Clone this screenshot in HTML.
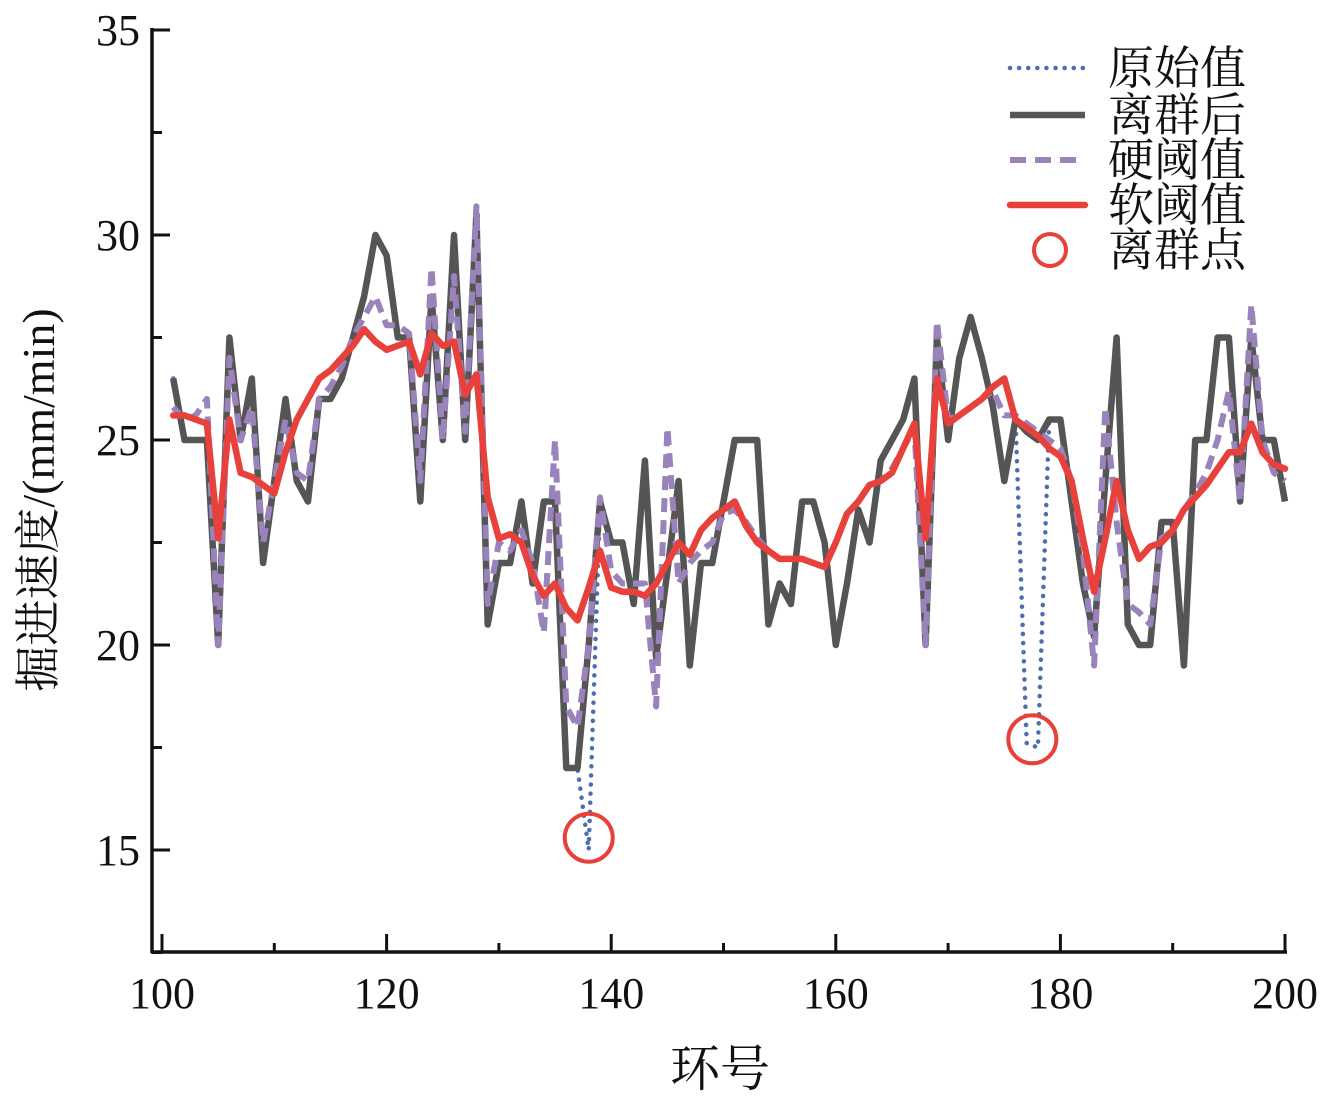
<!DOCTYPE html>
<html><head><meta charset="utf-8"><style>
body{margin:0;background:#fff;}
svg text{font-family:"Liberation Serif","Noto Serif CJK SC","Noto Sans CJK SC",serif;}
</style></head><body>
<svg id="chart" width="1337" height="1102" viewBox="0 0 1337 1102" xmlns="http://www.w3.org/2000/svg">
<g id="axes"></g>
<g id="series"></g>
<g id="legend"></g>
</svg>
<script>
const rings = []; for (let r = 101; r <= 200; r++) rings.push(r);
const afterVals = [26.5,25,25,25,20,27.5,25,26.5,22,24,26,24,23.5,26,26,26.5,27.5,28.5,30,29.5,
27.5,27.5,23.5,28.5,25,30,25,30.5,20.5,22,22,23.5,21.5,23.5,23.5,17,17,20,23.5,22.5,
22.5,21,24.5,19.7,21.8,24,19.5,22,22,23.5,25,25,25,20.5,21.5,21,23.5,23.5,22.5,20,
21.5,23.3,22.5,24.5,25,25.5,26.5,20,27.5,25,27,28,27,25.8,24,25.5,25.2,25,25.5,25.5,
23.5,21.5,20.2,24,27.5,20.5,20,20,23,23,19.5,25,25,27.5,27.5,23.5,27.5,25,25,23.5];
const rawVals = afterVals.slice(); rawVals[37] = 15; rawVals[76] = 17.6; rawVals[77] = 17.5;
const hardVals = [25.8,25.5,25.6,26,20,27,25,25.8,22.5,24,25.5,24.2,24,26,26.3,26.8,27.5,28,28.5,27.8,
27.8,27.6,24,29.2,25,29,25.2,30.7,21,22.5,22.3,22.8,22,20.3,25,18.5,18,20,23.6,21.8,
21.5,21.5,21.5,18.5,25.3,21.5,22,22.3,22.5,23.2,23.3,23,22.6,22.3,22.1,22.1,22.1,22,21.9,22.5,
23.2,23.5,23.9,24,24.3,24.8,25.3,20,27.9,25.5,25.6,25.8,26,26.2,25.6,25.6,25.4,25.2,25,24.8,
24,22.3,19.5,25.8,23,21,20.8,20.5,22.6,22.8,23.3,23.7,24.2,25,26.2,23.5,28.3,25,24.2,24];
const softVals = [25.6,25.6,25.5,25.4,22.6,25.5,24.2,24.1,23.9,23.7,24.7,25.5,26,26.5,26.7,27,27.3,27.7,27.4,27.2,
27.3,27.4,26.6,27.6,27.3,27.4,26.1,26.6,23.6,22.6,22.7,22.5,21.7,21.2,21.5,20.9,20.6,21.4,22.3,21.4,
21.3,21.3,21.2,21.5,22,22.5,22.2,22.8,23.1,23.3,23.5,22.9,22.5,22.3,22.1,22.1,22.1,22,21.9,22.5,
23.2,23.5,23.9,24,24.2,24.8,25.4,22.6,26.5,25.4,25.6,25.8,26,26.3,26.5,25.5,25.3,25.1,24.8,24.6,
24,22.6,21.3,22.6,24,22.8,22.1,22.4,22.5,22.8,23.3,23.6,23.9,24.3,24.7,24.7,25.4,24.7,24.4,24.3];
const outlierX = [138, 177.5];
const outlierY = [15.3, 17.7];
const xTicks = [100,120,140,160,180,200];
const yTicks = [15,20,25,30,35];
const legendLabels = ["原始值","离群后","硬阈值","软阈值","离群点"];

const NS = "http://www.w3.org/2000/svg";
const X = v => 162 + (v - 100) * 11.23;
const Y = v => 30 + (35 - v) * 41;
function mk(tag, attrs, parent){ const e = document.createElementNS(NS, tag); for (const k in attrs) e.setAttribute(k, attrs[k]); parent.appendChild(e); return e; }
const axes = document.getElementById('axes'), series = document.getElementById('series'), legend = document.getElementById('legend');

const yAxis = mk('line',{x1:152,y1:28,x2:152,y2:953,stroke:'#111','stroke-width':3.5},axes);


const xAxis = mk('line',{x1:151,y1:952,x2:1287,y2:952,stroke:'#111','stroke-width':3.5},axes);


for (let v = 12.5; v <= 35; v += 2.5) {
  const major = v % 5 === 0;
  const t = mk('line',{x1:152,y1:Y(v),x2:major?170:162,y2:Y(v),stroke:'#111','stroke-width':3},axes);
  
  
}
yTicks.forEach(v => {
  const t = mk('text',{x:140,y:Y(v)+15,'text-anchor':'end','font-size':44,fill:'#111'},axes); t.textContent = v;
  
  
});
for (let v = 100; v <= 200; v += 10) {
  const major = v % 20 === 0;
  const t = mk('line',{x1:X(v),y1:952,x2:X(v),y2:major?934:943,stroke:'#111','stroke-width':3},axes);
  
  
}
xTicks.forEach(v => {
  const t = mk('text',{x:X(v),y:1008,'text-anchor':'middle','font-size':44,fill:'#111'},axes); t.textContent = v;
  
  
});
const xt = mk('text',{x:720,y:1086,'text-anchor':'middle','font-size':50,fill:'#111'},axes); xt.textContent = '环号';


const yt = mk('text',{x:0,y:0,'text-anchor':'middle','font-size':46,fill:'#111',transform:'translate(54,500) rotate(-90)'},axes); yt.textContent = '掘进速度/(mm/min)';



const pts = vals => vals.map((v,i) => X(rings[i]).toFixed(1)+','+Y(v).toFixed(1)).join(' ');
const styles = [
  {vals:rawVals, stroke:'#4a6fb0', w:4.5, dash:'0.1 9', cap:'round', name:'raw-series'},
  {vals:afterVals, stroke:'#555555', w:6.5, dash:'', cap:'butt', name:'after-outlier-series'},
  {vals:hardVals, stroke:'#9a82bb', w:6, dash:'14 8', cap:'butt', name:'hard-threshold-series'},
  {vals:softVals, stroke:'#e8403a', w:6.5, dash:'', cap:'round', name:'soft-threshold-series'}
];
styles.forEach(s => {
  const p = mk('polyline',{points:pts(s.vals),fill:'none',stroke:s.stroke,'stroke-width':s.w,'stroke-linejoin':'round','stroke-linecap':s.cap},series);
  if (s.dash) p.setAttribute('stroke-dasharray', s.dash);
  
  
});
outlierX.forEach((x,i) => {
  const c = mk('circle',{cx:X(x),cy:Y(outlierY[i]),r:24,fill:'none',stroke:'#e8403a','stroke-width':4},series);
  
  
});

const ly = [68,115,160,205,250];
styles.forEach((s,i) => {
  const l = mk('line',{x1:1010,y1:ly[i],x2:1085,y2:ly[i],stroke:s.stroke,'stroke-width':s.w,'stroke-linecap':s.cap},legend);
  if (s.dash) l.setAttribute('stroke-dasharray', i===0?'0.1 9':'16 9');
  
  
});
const lc = mk('circle',{cx:1050,cy:ly[4],r:16,fill:'none',stroke:'#e8403a','stroke-width':4},legend);


legendLabels.forEach((t,i) => {
  const tx = mk('text',{x:1108,y:ly[i]+16,'font-size':46,fill:'#111'},legend); tx.textContent = t;
  
  
});
</script>
</body></html>
